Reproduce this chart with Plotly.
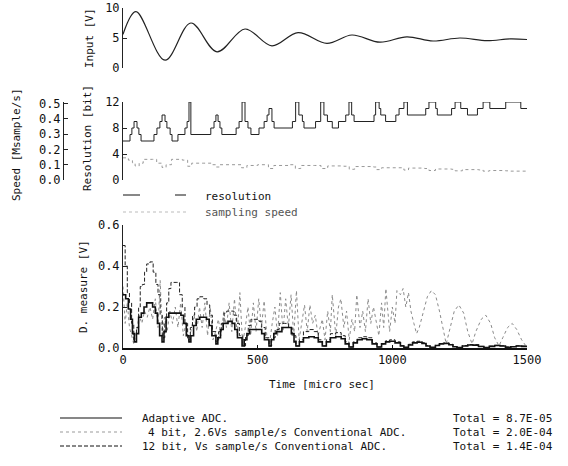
import plotly.graph_objects as go

W, H = 568, 466

# ---------------- data ----------------
input_t = [0, 48, 156, 252, 349, 453, 553, 650, 757, 850, 954, 1054, 1151, 1251, 1352, 1437, 1500]
input_v = [5.6, 9.4, 1.3, 7.5, 2.7, 6.5, 3.7, 5.9, 4.1, 5.5, 4.3, 5.2, 4.5, 5.0, 4.55, 4.85, 4.75]

res_t = [0, 26, 33, 41, 52, 59, 67, 115, 126, 137, 145, 156, 163, 175, 182, 204, 230, 238, 245, 252,
         326, 338, 345, 353, 360, 367, 420, 431, 442, 453, 464, 475, 505, 524, 535, 542, 553, 561,
         629, 641, 653, 666, 672, 715, 734, 746, 759, 777, 800, 827, 839, 849, 858, 932, 938, 951,
         957, 975, 1013, 1025, 1043, 1056, 1124, 1136, 1161, 1167, 1220, 1233, 1254, 1279, 1316,
         1337, 1362, 1421, 1477, 1500]
res_bits = [6, 7, 8, 9, 8, 7, 6, 7, 8, 9, 10, 9, 8, 7, 6, 7, 8, 9, 12, 7,
            8, 9, 10, 9, 8, 7, 8, 9, 12, 9, 8, 7, 8, 9, 10, 11, 9, 8,
            9, 12, 10, 9, 8, 9, 12, 10, 9, 8, 9, 10, 12, 10, 9, 10, 12, 11,
            10, 9, 10, 11, 12, 10, 11, 12, 11, 10, 11, 12, 11, 10, 11,
            12, 11, 12, 11, 11]

speed_t = [0, 20, 35, 45, 60, 75, 110, 125, 145, 160, 180, 220, 240, 255, 300, 330, 345, 360, 400,
           440, 460, 500, 540, 560, 620, 640, 660, 710, 735, 760, 820, 840, 860, 930, 940, 960,
           1020, 1043, 1060, 1120, 1136, 1160, 1220, 1233, 1260, 1320, 1337, 1360, 1420, 1440, 1500]
speed_v = [0.145, 0.13, 0.113, 0.092, 0.11, 0.135, 0.135, 0.11, 0.082, 0.10, 0.135, 0.13, 0.09, 0.11,
           0.11, 0.10, 0.085, 0.10, 0.10, 0.08, 0.095, 0.10, 0.075, 0.095, 0.10, 0.075, 0.095,
           0.095, 0.075, 0.092, 0.09, 0.07, 0.088, 0.085, 0.068, 0.08, 0.08, 0.065, 0.078, 0.075,
           0.062, 0.072, 0.07, 0.06, 0.068, 0.066, 0.058, 0.062, 0.06, 0.058, 0.06]

adapt_t = [0, 10, 20, 28, 35, 42, 50, 58, 68, 78, 88, 100, 110, 120, 128, 136, 145, 152, 160, 170,
           200, 215, 225, 235, 245, 252, 262, 272, 285, 310, 320, 330, 345, 352, 362, 372, 390, 405,
           415, 425, 442, 450, 460, 470, 500, 515, 525, 542, 550, 560, 570, 590, 610, 625, 635, 642,
           655, 670, 690, 710, 725, 740, 755, 770, 790, 810, 825, 839, 855, 870, 888, 905, 925, 943,
           960, 975, 990, 1010, 1030, 1043, 1060, 1075, 1092, 1110, 1125, 1140, 1160, 1175, 1190,
           1210, 1225, 1240, 1260, 1280, 1300, 1320, 1340, 1360, 1380, 1400, 1420, 1440, 1460, 1480, 1500]
adapt_v = [0.26, 0.24, 0.19, 0.14, 0.07, 0.03, 0.07, 0.15, 0.17, 0.20, 0.22, 0.22, 0.20, 0.17, 0.12,
           0.06, 0.03, 0.08, 0.15, 0.17, 0.17, 0.16, 0.12, 0.06, 0.03, 0.06, 0.11, 0.14, 0.15, 0.14,
           0.11, 0.06, 0.02, 0.05, 0.09, 0.12, 0.13, 0.12, 0.09, 0.05, 0.01, 0.04, 0.07, 0.09, 0.09,
           0.07, 0.04, 0.01, 0.04, 0.07, 0.08, 0.10, 0.10, 0.07, 0.03, 0.01, 0.03, 0.05, 0.055, 0.05,
           0.03, 0.01, 0.03, 0.05, 0.055, 0.045, 0.02, 0.005, 0.025, 0.04, 0.045, 0.04, 0.02, 0.005,
           0.02, 0.03, 0.033, 0.025, 0.01, 0.003, 0.015, 0.025, 0.028, 0.022, 0.01, 0.003, 0.012,
           0.02, 0.022, 0.016, 0.006, 0.002, 0.01, 0.015, 0.014, 0.007, 0.002, 0.008, 0.012, 0.01,
           0.004, 0.006, 0.01, 0.008, 0.005]

conv12_t = [0, 8, 16, 24, 32, 40, 50, 58, 64, 72, 80, 88, 100, 112, 122, 130, 138, 146, 155, 162, 170,
            178, 200, 210, 220, 230, 240, 250, 258, 266, 275, 285, 300, 312, 322, 332, 345, 355, 365,
            375, 385, 400, 412, 422, 432, 445, 455, 465, 475, 490, 505, 515, 528, 542, 552, 565, 580,
            600, 615, 628, 642, 655, 670, 690, 710, 725, 740, 755, 770, 790, 810, 825, 839, 855, 870,
            888, 905, 925, 943, 960, 975, 990, 1010, 1030, 1043, 1060, 1075, 1092, 1110, 1125, 1140,
            1160, 1175, 1190, 1210, 1225, 1240, 1260, 1280, 1300, 1320, 1340, 1360, 1380, 1400, 1420,
            1440, 1460, 1480, 1500]
conv12_v = [0.50, 0.40, 0.27, 0.22, 0.12, 0.04, 0.10, 0.20, 0.30, 0.31, 0.37, 0.41, 0.42, 0.37, 0.31,
            0.26, 0.16, 0.05, 0.12, 0.22, 0.29, 0.32, 0.32, 0.26, 0.20, 0.12, 0.04, 0.10, 0.16, 0.20,
            0.24, 0.25, 0.24, 0.21, 0.16, 0.08, 0.03, 0.08, 0.12, 0.17, 0.18, 0.18, 0.16, 0.12, 0.06,
            0.01, 0.06, 0.11, 0.14, 0.14, 0.13, 0.10, 0.05, 0.01, 0.05, 0.09, 0.12, 0.12, 0.10, 0.06,
            0.01, 0.04, 0.08, 0.09, 0.08, 0.04, 0.01, 0.04, 0.07, 0.075, 0.06, 0.03, 0.005, 0.03,
            0.05, 0.055, 0.05, 0.025, 0.005, 0.02, 0.035, 0.04, 0.03, 0.012, 0.003, 0.018, 0.03,
            0.033, 0.026, 0.012, 0.003, 0.014, 0.022, 0.025, 0.018, 0.007, 0.002, 0.012, 0.017,
            0.016, 0.008, 0.002, 0.009, 0.013, 0.011, 0.005, 0.007, 0.011, 0.009, 0.006]

conv4_t = [0, 8, 16, 24, 32, 40, 50, 60, 70, 80, 90, 100, 110, 120, 130, 138, 146, 154, 164, 174, 184,
           194, 204, 214, 224, 234, 244, 254, 264, 274, 284, 294, 304, 314, 324, 334, 344, 354, 364,
           374, 384, 394, 404, 414, 424, 434, 444, 454, 464, 474, 484, 494, 504, 514, 524, 534, 544,
           554, 564, 574, 584, 594, 604, 614, 624, 634, 644, 654, 664, 674, 684, 694, 704, 714, 724,
           740, 750, 760, 770, 777, 790, 800, 809, 820, 830, 840, 850, 860, 868, 880, 890, 900, 910,
           920, 930, 938, 950, 960, 968, 976, 990, 1000, 1010, 1017, 1030, 1040, 1050, 1060, 1069,
           1080, 1090, 1100, 1115, 1130, 1145, 1160, 1175, 1190, 1200, 1215, 1230, 1247, 1265, 1280,
           1296, 1310, 1330, 1347, 1365, 1380, 1396, 1410, 1428, 1445, 1462, 1480, 1496]
conv4_v = [0.30, 0.12, 0.22, 0.10, 0.06, 0.02, 0.08, 0.16, 0.12, 0.18, 0.15, 0.20, 0.14, 0.24, 0.10,
           0.33, 0.06, 0.15, 0.08, 0.18, 0.12, 0.20, 0.10, 0.22, 0.06, 0.12, 0.03, 0.10, 0.16, 0.08,
           0.20, 0.10, 0.22, 0.06, 0.20, 0.04, 0.08, 0.14, 0.06, 0.18, 0.10, 0.22, 0.08, 0.24, 0.06,
           0.27, 0.02, 0.10, 0.20, 0.06, 0.22, 0.08, 0.24, 0.10, 0.23, 0.06, 0.02, 0.12, 0.20, 0.06,
           0.27, 0.08, 0.24, 0.10, 0.26, 0.06, 0.28, 0.04, 0.12, 0.21, 0.08, 0.21, 0.12, 0.16, 0.06,
           0.14, 0.04, 0.18, 0.08, 0.26, 0.06, 0.20, 0.24, 0.10, 0.18, 0.04, 0.14, 0.08, 0.26, 0.10,
           0.18, 0.08, 0.24, 0.12, 0.20, 0.15, 0.06, 0.22, 0.10, 0.29, 0.08, 0.20, 0.12, 0.28, 0.26,
           0.29, 0.20, 0.27, 0.18, 0.12, 0.07, 0.10, 0.18, 0.25, 0.28, 0.26, 0.18, 0.08, 0.02, 0.10,
           0.18, 0.21, 0.17, 0.08, 0.02, 0.08, 0.14, 0.16, 0.12, 0.05, 0.01, 0.05, 0.10, 0.12, 0.09,
           0.04, 0.01]

legend_names = ["Adaptive ADC.", "4 bit, 2.6Vs sample/s Conventional ADC.", "12 bit, Vs sample/s Conventional ADC."]
legend_totals = ["Total = 8.7E-05", "Total = 2.0E-04", "Total = 1.4E-04"]

# ---------------- layout helpers ----------------
FONT = "DejaVu Sans Mono"
def px(x):
    return x / W
def py(y):
    return 1 - y / H

XDOM = [px(123), px(527)]

fig = go.Figure()

fig.add_trace(go.Scatter(x=input_t, y=input_v, mode="lines", line=dict(color="#222", width=1.2, shape="spline", smoothing=1.0),
                         xaxis="x3", yaxis="y4", showlegend=False))
fig.add_trace(go.Scatter(x=res_t, y=res_bits, mode="lines", line=dict(color="#222", width=1, shape="hv"),
                         xaxis="x2", yaxis="y2", showlegend=False))
fig.add_trace(go.Scatter(x=speed_t, y=speed_v, mode="lines", line=dict(color="#999", width=1, shape="hv", dash="dot"),
                         xaxis="x2", yaxis="y3", showlegend=False))
fig.add_trace(go.Scatter(x=conv4_t, y=conv4_v, mode="lines", line=dict(color="#8a8a8a", width=1, dash="dot"),
                         xaxis="x", yaxis="y", showlegend=False))
fig.add_trace(go.Scatter(x=conv12_t, y=conv12_v, mode="lines", line=dict(color="#222", width=1, shape="hv", dash="4px,2px"),
                         xaxis="x", yaxis="y", showlegend=False))
fig.add_trace(go.Scatter(x=adapt_t, y=adapt_v, mode="lines", line=dict(color="#111", width=1.6, shape="hv"),
                         xaxis="x", yaxis="y", showlegend=False))

tickfont = dict(family=FONT, size=12, color="#111")
yax_common = dict(showgrid=False, zeroline=False, showline=True, linecolor="#222", linewidth=1,
                  ticks="inside", ticklen=4, tickcolor="#222", tickfont=tickfont, automargin=False)

fig.update_layout(
    width=W, height=H, margin=dict(l=0, r=0, t=0, b=0, autoexpand=False),
    paper_bgcolor="white", plot_bgcolor="white", hovermode=False,
    xaxis=dict(domain=XDOM, anchor="y", range=[0, 1500], tickvals=[0, 500, 1000, 1500],
               showgrid=False, zeroline=False, showline=True, linecolor="#111", linewidth=2,
               ticks="inside", ticklen=3, tickcolor="#111", tickfont=tickfont, automargin=False),
    xaxis2=dict(domain=XDOM, anchor="y2", range=[0, 1500], visible=False, automargin=False),
    xaxis3=dict(domain=XDOM, anchor="y4", range=[0, 1500], visible=False, automargin=False),
    yaxis=dict(domain=[py(348), py(225)], anchor="x", range=[0, 0.6],
               tickvals=[0, 0.2, 0.4, 0.6], ticktext=["0.0", "0.2", "0.4", "0.6"], **yax_common),
    yaxis2=dict(domain=[py(180), py(102)], anchor="x2", range=[0, 12], tickvals=[0, 4, 8, 12], **yax_common),
    yaxis3=dict(overlaying="y2", anchor="free", position=px(63), side="left", range=[0, 0.51],
                tickvals=[0, 0.1, 0.2, 0.3, 0.4, 0.5], ticktext=["0.0", "0.1", "0.2", "0.3", "0.4", "0.5"],
                **yax_common),
    yaxis4=dict(domain=[py(68), py(8)], anchor="x3", range=[0, 10], tickvals=[0, 5, 10], **yax_common),
)

ann = []
def text(x, y, s, angle=0, xanchor="center", size=11, color="#111"):
    ann.append(dict(x=px(x), y=py(y), xref="paper", yref="paper", text=s, showarrow=False,
                    textangle=angle, xanchor=xanchor, yanchor="middle",
                    font=dict(family=FONT, size=size, color=color)))

text(90, 38, "Input [V]", angle=-90)
text(87, 138, "Resolution [bit]", angle=-90)
text(17, 145, "Speed [Msample/s]", angle=-90)
text(83, 287, "D. measure [V]", angle=-90)
text(322, 384, "Time [micro sec]")
text(203, 196, "resolution", xanchor="left")
text(203, 212, "sampling speed", xanchor="left", color="#555")

rows_y = [418, 432, 446]
name_x = [140, 146, 140]
for yy, nx, name, tot in zip(rows_y, name_x, legend_names, legend_totals):
    text(nx, yy, name, xanchor="left")
    text(451, yy, tot, xanchor="left")

shapes = []
def seg(x0, x1, y, color, width, dash):
    shapes.append(dict(type="line", xref="paper", yref="paper", x0=px(x0), x1=px(x1), y0=py(y), y1=py(y),
                       line=dict(color=color, width=width, dash=dash)))

seg(60, 122, 418, "#111", 1.2, "solid")
seg(60, 122, 432, "#999", 1, "dot")
seg(60, 122, 446, "#111", 1, "4px,2px")
seg(123, 186, 195, "#111", 1, "17px,35px,11px")
seg(123, 186, 212, "#bbb", 1, "dot")

fig.update_layout(annotations=ann, shapes=shapes)

fig.write_html("out.html", config={"displayModeBar": False, "staticPlot": True},
               post_script="document.body.style.margin='0';document.body.style.overflow='hidden';")
